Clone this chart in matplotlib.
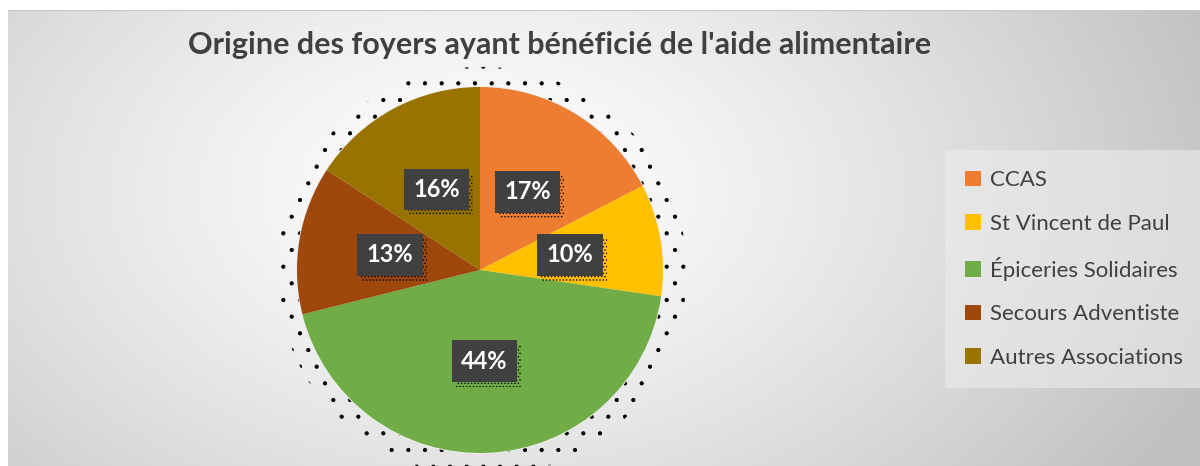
import numpy as np
import matplotlib.pyplot as plt
from matplotlib.patches import Circle, Rectangle

labels = ['CCAS', 'St Vincent de Paul', 'Épiceries Solidaires',
          'Secours Adventiste', 'Autres Associations']
values = [17.4, 9.9, 43.8, 13.1, 15.8]
colors = ['#ED7D31', '#FFC000', '#70AD47', '#9E480E', '#997300']
title = "Origine des foyers ayant bénéficié de l'aide alimentaire"

plt.rcParams['font.family'] = ['Lato', 'DejaVu Sans']
plt.rcParams['hatch.linewidth'] = 0.6

fig = plt.figure(figsize=(12, 4.66), dpi=100)

# fond en degradé radial
bg = fig.add_axes([8/1200, 0, 1 - 8/1200, 1 - 10/466])
bg.set_axis_off()
yy, xx = np.mgrid[0:456, 0:1192]
d = np.sqrt(((xx - 470) / 800.0)**2 + ((yy - 180) / 520.0)**2)
g = 1.0 - 0.25 * np.clip(d, 0, 1)**1.3
bg.imshow(np.dstack([g, g, g]), aspect='auto', extent=[0, 1, 0, 1], zorder=0)
bg.plot([0, 1], [1, 1], color='#c8c8c8', lw=1.5, transform=bg.transAxes)

# camembert
R = 183
ax = fig.add_axes([(480 - R) / 1200, (466 - 270 - R) / 466, 2 * R / 1200, 2 * R / 466])
ax.set_axis_off()

wedges, _ = ax.pie(values, colors=colors, startangle=90, counterclock=False,
                   radius=1.0, wedgeprops=dict(linewidth=0))
ax.set_xlim(-1, 1)
ax.set_ylim(-1, 1)
for w in wedges:
    w.set_zorder(1)

# ombre en points
ax.add_patch(Circle((0.01, -0.01), 1.12, fc='none', ec='black', hatch='.', lw=0,
                    zorder=0, clip_on=False))
ax.add_patch(Circle((0.0, 0.0), 1.005, fc='#eeeeee', ec='none', zorder=0.5, clip_on=False))

total = sum(values)
start = 90.0
boxes = []
for v in values:
    ang = np.deg2rad(start - 360 * v / total / 2)
    start -= 360 * v / total
    x, y = 0.5 * np.cos(ang), 0.5 * np.sin(ang)
    txt = f'{v / total * 100:.0f}%'
    t = ax.text(x, y, txt, ha='center', va='center', fontsize=17, fontweight='bold',
                color='white', zorder=3,
                bbox=dict(boxstyle='square,pad=0.4', fc='#404040', ec='none'))
    boxes.append(t)

fig.canvas.draw()
inv = ax.transData.inverted()
for t in boxes:
    ext = t.get_bbox_patch().get_window_extent()
    (x0, y0), (x1, y1) = inv.transform([[ext.x0 + 4, ext.y0 - 5], [ext.x1 + 4, ext.y1 - 5]])
    ax.add_patch(Rectangle((x0, y0), x1 - x0, y1 - y0, fc='none', ec='black',
                           hatch='.....', lw=0, zorder=2))

fig.text(0.466, 1 - 45/466, title, ha='center', va='center', fontsize=22,
         fontweight='bold', color='#404040')

leg = fig.legend(wedges, labels, loc='center left', bbox_to_anchor=(952/1200, 1 - 269/466),
                 frameon=True, fontsize=16, handlelength=0.7, handleheight=0.7,
                 handletextpad=0.4, labelspacing=1.05, borderpad=0.6, labelcolor='#404040',
                 borderaxespad=0)
leg.get_frame().set_facecolor('#ececec')
leg.get_frame().set_edgecolor('none')
leg.get_frame().set_alpha(0.6)
leg.get_frame().set_boxstyle('square')

fig.savefig('out.png', dpi=100, facecolor='white')
